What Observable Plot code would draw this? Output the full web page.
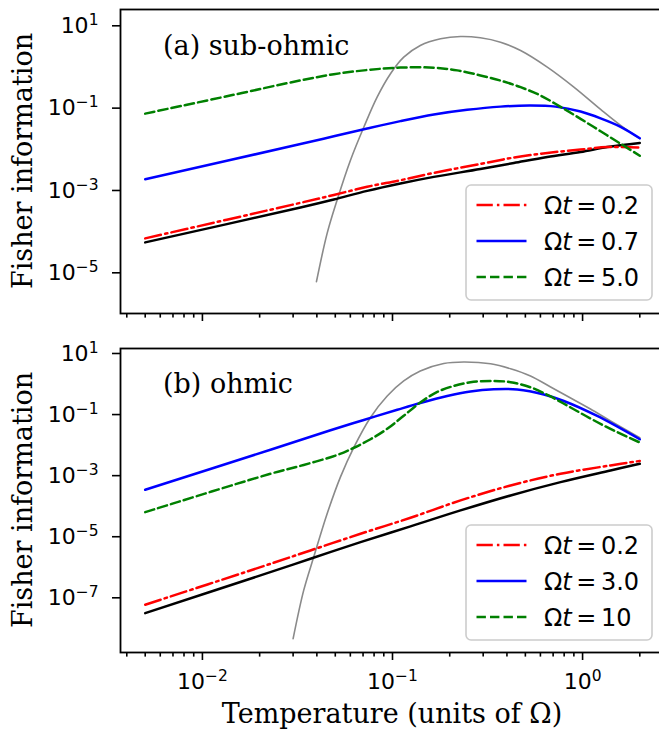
<!DOCTYPE html>
<html><head><meta charset="utf-8">
<script src="https://cdn.jsdelivr.net/npm/d3@7"></script>
<script src="https://cdn.jsdelivr.net/npm/@observablehq/plot@0.6"></script>
<style>
html,body{margin:0;padding:0;background:#fff;overflow:hidden;}
#fig{position:relative;width:659px;height:730px;overflow:hidden;}
#fig svg{display:block;overflow:hidden;position:absolute;left:0;}
</style></head><body><div id="fig"></div>
<script>
// ---------------- data ----------------
// Panel (a) sub-ohmic
const aGrayT  = [0.0398,0.0453,0.0511,0.0601,0.0707,0.0830,0.0976,0.1146,0.140,0.179,0.228,0.290,0.370,0.472,0.652,0.900,1.244,1.585,2.0];
const aGrayF  = [5.35e-6,7.98e-5,5.12e-4,4.78e-3,0.0306,0.163,0.604,1.52,2.93,4.26,4.84,4.50,3.52,2.21,0.873,0.286,0.0822,0.0337,0.0160];
const aBlackT = [0.005,0.0328,0.0491,0.0736,0.110,0.165,0.290,0.435,0.652,0.976,1.349,2.0];
const aBlackF = [4.83e-5,3.40e-4,5.32e-4,8.61e-4,1.30e-3,1.88e-3,2.92e-3,4.10e-3,5.74e-3,7.59e-3,1.00e-2,1.25e-2];
const aRedT   = [0.005,0.0328,0.0491,0.0736,0.110,0.165,0.290,0.435,0.652,0.976,1.349,2.0];
const aRedF   = [6.04e-5,4.41e-4,6.84e-4,1.08e-3,1.56e-3,2.35e-3,3.88e-3,5.55e-3,7.18e-3,8.67e-3,1.00e-2,9.71e-3];
const aBlueT  = [0.005,0.0328,0.0491,0.0736,0.110,0.165,0.247,0.370,0.532,0.721,0.976,1.244,1.585,2.0];
const aBlueF  = [1.65e-3,0.0118,0.01824,0.02818,0.04256,0.06151,0.0800,0.0957,0.1016,0.0957,0.0728,0.0498,0.0310,0.0163];
const aGreenT = [0.005,0.01456,0.0328,0.0491,0.0736,0.110,0.165,0.219,0.290,0.370,0.472,0.601,0.766,0.976,1.244,1.585,2.0];
const aGreenF = [0.0647,0.185,0.415,0.586,0.741,0.848,0.843,0.727,0.548,0.410,0.284,0.178,0.0946,0.0484,0.0241,0.0120,0.00614];

// Panel (b) ohmic
const bGrayT  = [0.0300,0.0341,0.0385,0.0453,0.0532,0.0627,0.0766,0.0938,0.1146,0.140,0.186,0.237,0.328,0.418,0.532,0.679,0.865,1.10,1.403,2.0];
const bGrayF  = [3.85e-9,1.47e-7,1.81e-6,4.76e-5,7.52e-4,7.21e-3,0.0676,0.3416,1.058,2.25,3.95,4.43,3.87,2.66,1.54,0.673,0.294,0.128,0.0519,0.0146];
const bBlackT = [0.005,0.0202,0.0370,0.0679,0.1244,0.228,0.418,0.766,1.403,2.0];
const bBlackF = [2.65e-8,4.55e-7,1.60e-6,5.60e-6,1.83e-5,6.11e-5,1.89e-4,5.15e-4,1.24e-3,2.06e-3];
const bRedT   = [0.005,0.0202,0.0370,0.0679,0.1244,0.228,0.418,0.766,1.403,2.0];
const bRedF   = [5.00e-8,8.51e-7,2.99e-6,1.05e-5,3.52e-5,1.30e-4,4.02e-4,9.70e-4,1.82e-3,2.55e-3];
const bBlueT  = [0.005,0.0228,0.0472,0.0706,0.106,0.140,0.194,0.257,0.341,0.453,0.626,0.797,1.194,2.0];
const bBlueF  = [2.90e-4,5.92e-3,0.02576,0.0560,0.1208,0.2013,0.3416,0.480,0.566,0.557,0.383,0.2344,0.0757,0.01306];
const bGreenT = [0.005,0.0228,0.0341,0.0512,0.0627,0.0766,0.0938,0.1146,0.140,0.172,0.210,0.257,0.328,0.418,0.532,0.679,0.865,1.10,1.403,2.0];
const bGreenF = [5.37e-5,9.70e-4,1.884e-3,4.0e-3,6.89e-3,0.01306,0.02884,0.0767,0.2094,0.4619,0.7263,0.9594,1.066,0.9667,0.658,0.329,0.1435,0.0626,0.0284,0.01025];

// ticks and labels
const xMajor = [0.01, 0.1, 1];
const xMajorLabels = ["10|−2", "10|−1", "10|0"];
const xMinor = [0.004,0.005,0.006,0.007,0.008,0.009,0.02,0.03,0.04,0.05,0.06,0.07,0.08,0.09,0.2,0.3,0.4,0.5,0.6,0.7,0.8,0.9,2];
const yTicksA = [10, 0.1, 1e-3, 1e-5];
const yLabelsA = ["10|1", "10|−1", "10|−3", "10|−5"];
const yTicksB = [10, 0.1, 1e-3, 1e-5, 1e-7];
const yLabelsB = ["10|1", "10|−1", "10|−3", "10|−5", "10|−7"];
const legendA = ["0.2", "0.7", "5.0"];
const legendB = ["0.2", "3.0", "10"];
const panelTitles = ["(a) sub-ohmic", "(b) ohmic"];
const xTitle = "Temperature (units of Ω)";
const yTitle = "Fisher information";

// ---------------- styles ----------------
const RED = {color: "#ff0000", dash: "16.3,4.1,2.5,4.1", w: 2.5};
const BLUE = {color: "#0000ff", dash: null, w: 2.5};
const GREEN = {color: "#008000", dash: "9.4,4.1", w: 2.5};
const BLACK = {color: "#000000", dash: null, w: 2.5};
const GRAY = {color: "#8a8a8a", dash: null, w: 1.6};

const W = 659;
const xDomain = [10 ** -2.431, 10 ** 0.431];

function rows(T, F) { return T.map((t, i) => ({T: t, F: F[i]})); }

function panel({height, marginTop, marginBottom, yDomain, yTicks, yLabels, series, xLabels}) {
  const yMap = new Map(yTicks.map((v, i) => [v, yLabels[i]]));
  const xMap = new Map(xMajor.map((v, i) => [v, xLabels ? xMajorLabels[i] : ""]));
  return Plot.plot({
    width: W, height, marginLeft: 120, marginRight: -5, marginTop, marginBottom,
    style: {fontFamily: "DejaVu Sans", fontSize: "22px", background: "white", overflow: "hidden"},
    x: {type: "log", domain: xDomain, label: null},
    y: {type: "log", domain: yDomain, label: null},
    marks: [
      ...series.map(s => Plot.line(rows(s.T, s.F), {
        x: "T", y: "F", stroke: s.st.color, strokeWidth: s.st.w,
        strokeDasharray: s.st.dash || undefined, curve: "catmull-rom"
      })),
      Plot.axisX({ticks: xMinor, tickSize: 4.6, tickFormat: () => "", strokeWidth: 1.6, label: null}),
      Plot.axisX({ticks: xMajor, tickSize: 8, tickPadding: 12.7, fontSize: 22, tickFormat: d => xMap.get(d), strokeWidth: 1.6, label: null}),
      Plot.axisY({ticks: yTicks, tickSize: 8, tickPadding: 14, fontSize: 22, dy: 2.3, tickFormat: d => yMap.get(d), strokeWidth: 1.6, label: null}),
      Plot.frame({stroke: "black", strokeWidth: 1.8})
    ]
  });
}

function superscripts(svg) {
  d3.select(svg).selectAll("text").each(function() {
    const s = this.textContent;
    if (!s.includes("|")) return;
    const [b, e] = s.split("|");
    const t = d3.select(this);
    t.text(null);
    t.append("tspan").text(b);
    t.append("tspan").attr("font-size", 15.5).attr("dy", -8).text(e);
  });
}

function addLegend(svg, x0, y0, vals, styles) {
  const g = d3.select(svg).append("g");
  g.append("rect").attr("x", x0).attr("y", y0).attr("width", 186).attr("height", 115)
    .attr("rx", 5).attr("fill", "white").attr("fill-opacity", 0.8)
    .attr("stroke", "#cccccc").attr("stroke-width", 1.6);
  vals.forEach((v, i) => {
    const cy = y0 + 20 + i * 36;
    g.append("line").attr("x1", x0 + 10.5).attr("x2", x0 + 60.5).attr("y1", cy).attr("y2", cy)
      .attr("stroke", styles[i].color).attr("stroke-width", 2.5)
      .attr("stroke-dasharray", styles[i].dash);
    const t = g.append("text").attr("x", x0 + 78).attr("y", cy + 8.6)
      .attr("text-anchor", "start")
      .attr("font-family", "DejaVu Sans").attr("font-size", 24).attr("fill", "black");
    t.append("tspan").text("Ω");
    t.append("tspan").attr("font-style", "italic").text("t");
    t.append("tspan").attr("dx", 4.5).text("=");
    t.append("tspan").attr("dx", 4.5).text(v);
  });
}

function addText(svg, x, y, txt, opts = {}) {
  const t = d3.select(svg).append("text").attr("x", 0).attr("y", 0)
    .attr("transform", `translate(${x},${y})` + (opts.rotate ? ` rotate(${opts.rotate})` : ""))
    .attr("font-family", "DejaVu Serif").attr("font-size", opts.size || 27)
    .attr("text-anchor", opts.anchor || "start").attr("fill", "black").text(txt);
  return t;
}

const fig = document.getElementById("fig");

// Panel (a)
const svgA = panel({
  height: 335, marginTop: 9, marginBottom: 22,
  yDomain: [10 ** -6.044, 10 ** 1.340], yTicks: yTicksA, yLabels: yLabelsA, xLabels: false,
  series: [
    {T: aGrayT, F: aGrayF, st: GRAY},
    {T: aBlackT, F: aBlackF, st: BLACK},
    {T: aRedT, F: aRedF, st: RED},
    {T: aBlueT, F: aBlueF, st: BLUE},
    {T: aGreenT, F: aGreenF, st: GREEN}
  ]
});
svgA.style.top = "0px";
superscripts(svgA);
addText(svgA, 163, 55, panelTitles[0]);
addText(svgA, 32, 161, yTitle, {rotate: -90, anchor: "middle"});
addLegend(svgA, 466, 185, legendA, [RED, BLUE, GREEN]);
fig.appendChild(svgA);

// Panel (b)
const svgB = panel({
  height: 395, marginTop: 13, marginBottom: 78,
  yDomain: [10 ** -8.866, 10 ** 1.088], yTicks: yTicksB, yLabels: yLabelsB, xLabels: true,
  series: [
    {T: bGrayT, F: bGrayF, st: GRAY},
    {T: bBlackT, F: bBlackF, st: BLACK},
    {T: bRedT, F: bRedF, st: RED},
    {T: bBlueT, F: bBlueF, st: BLUE},
    {T: bGreenT, F: bGreenF, st: GREEN}
  ]
});
svgB.style.top = "335px";
superscripts(svgB);
addText(svgB, 163, 58, panelTitles[1]);
addText(svgB, 32, 165, yTitle, {rotate: -90, anchor: "middle"});
addText(svgB, 392, 388, xTitle, {anchor: "middle"});
addLegend(svgB, 466, 190, legendB, [RED, BLUE, GREEN]);
fig.appendChild(svgB);
</script>
</body></html>
